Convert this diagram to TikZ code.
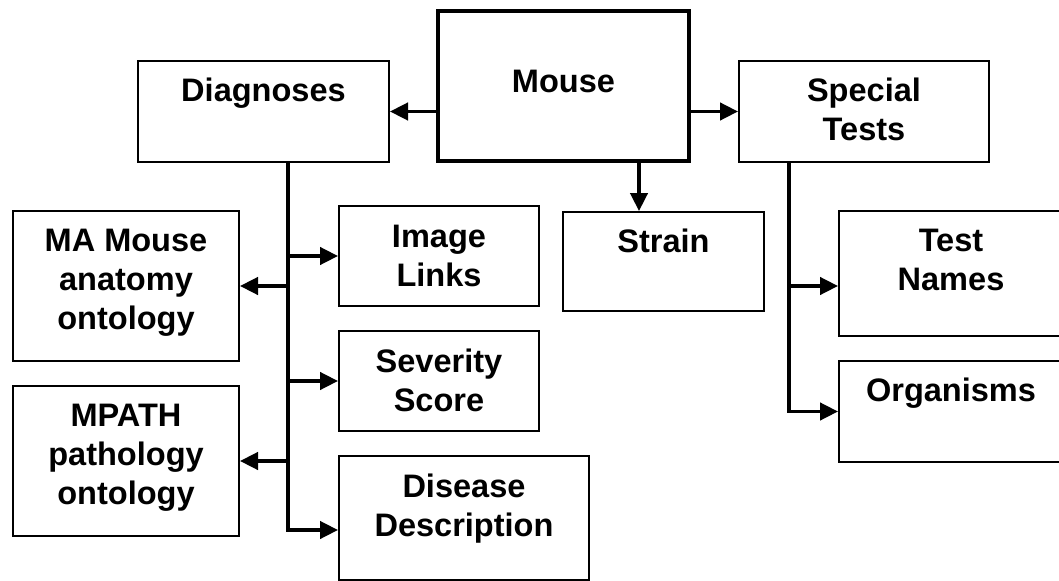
\documentclass[tikz,border=0pt]{standalone}
\usepackage{fontspec}
\setmainfont{Liberation Sans}
\usetikzlibrary{arrows.meta}
\newcommand{\mltext}[1]{\begin{tabular}[t]{@{}c@{}}#1\end{tabular}}
\tikzset{
  box/.style={draw=black, line width=1.5pt, fill=white, inner sep=0pt},
  bigbox/.style={box, line width=2.6pt},
  txt/.style={inner sep=0pt, anchor=base, font=\fontsize{24.4}{29.25}\selectfont\bfseries},
  conn/.style={line width=2.5pt, -{Triangle[length=13.5pt,width=13pt]}}
}
\begin{document}
\begin{tikzpicture}[x=0.75pt, y=-0.75pt]
\useasboundingbox (0,0) rectangle (1059,581);
\fill[white] (0,0) rectangle (1059,581);
\clip (0,0) rectangle (1059,581);

% boxes
\node[bigbox, minimum width=251*0.75pt, minimum height=150*0.75pt] (mouse) at (563.5,86) {};
\node[box, minimum width=251*0.75pt, minimum height=101*0.75pt] (diag) at (263.5,111.5) {};
\node[box, minimum width=250*0.75pt, minimum height=101*0.75pt] (special) at (864,111.5) {};
\node[box, minimum width=201*0.75pt, minimum height=99*0.75pt] (strain) at (663.5,261.5) {};
\node[box, minimum width=200*0.75pt, minimum height=100*0.75pt] (img) at (439,256) {};
\node[box, minimum width=200*0.75pt, minimum height=100*0.75pt] (sev) at (439,381) {};
\node[box, minimum width=250*0.75pt, minimum height=124*0.75pt] (dis) at (464,518) {};
\node[box, minimum width=226*0.75pt, minimum height=150*0.75pt] (ma) at (126,286) {};
\node[box, minimum width=226*0.75pt, minimum height=150*0.75pt] (mpath) at (126,461) {};
\node[box, minimum width=224*0.75pt, minimum height=125*0.75pt] (test) at (951,273.5) {};
\node[box, minimum width=224*0.75pt, minimum height=101*0.75pt] (org) at (951,411.5) {};

% texts
\node[txt] (mouse-t) at (563.5,93) {Mouse};
\node[txt] (diag-t) at (263.5,101.5) {Diagnoses};
\node[txt] (special-t) at (864,101.5) {\mltext{Special\\Tests}};
\node[txt] (strain-t) at (663.5,252.5) {Strain};
\node[txt] (img-t) at (439,247) {\mltext{Image\\Links}};
\node[txt] (sev-t) at (439,372) {\mltext{Severity\\Score}};
\node[txt] (dis-t) at (464,497) {\mltext{Disease\\Description}};
\node[txt] (ma-t) at (126,251) {\mltext{MA Mouse\\anatomy\\ontology}};
\node[txt] (mpath-t) at (126,426) {\mltext{MPATH\\pathology\\ontology}};
\node[txt] (test-t) at (951,251.5) {\mltext{Test\\Names}};
\node[txt] (org-t) at (951,401.5) {Organisms};

% connectors from Mouse
\draw[conn] (mouse.west |- diag.east) -- (diag.east);
\draw[conn] (mouse.east |- special.west) -- (special.west);
\draw[conn] ([xshift=56.625pt]mouse.south) -- ([xshift=56.625pt]mouse.south |- strain.north);

% Diagnoses trunk
\coordinate (dtrunk) at ([xshift=18.375pt]diag.south);
\draw[conn] (dtrunk) |- ([yshift=-9pt]dis.west);
\draw[conn] (dtrunk |- img.west) -- (img.west);
\draw[conn] (dtrunk |- sev.west) -- (sev.west);
\draw[conn] (dtrunk |- ma.east) -- (ma.east);
\draw[conn] (dtrunk |- mpath.east) -- (mpath.east);

% Special Tests trunk
\coordinate (strunk) at ([xshift=-56.25pt]special.south);
\draw[conn] (strunk) |- (org.west);
\draw[conn] (strunk |- test.west) ++(0,12.5) -- ([yshift=-9.375pt]test.west);
\end{tikzpicture}
\end{document}
